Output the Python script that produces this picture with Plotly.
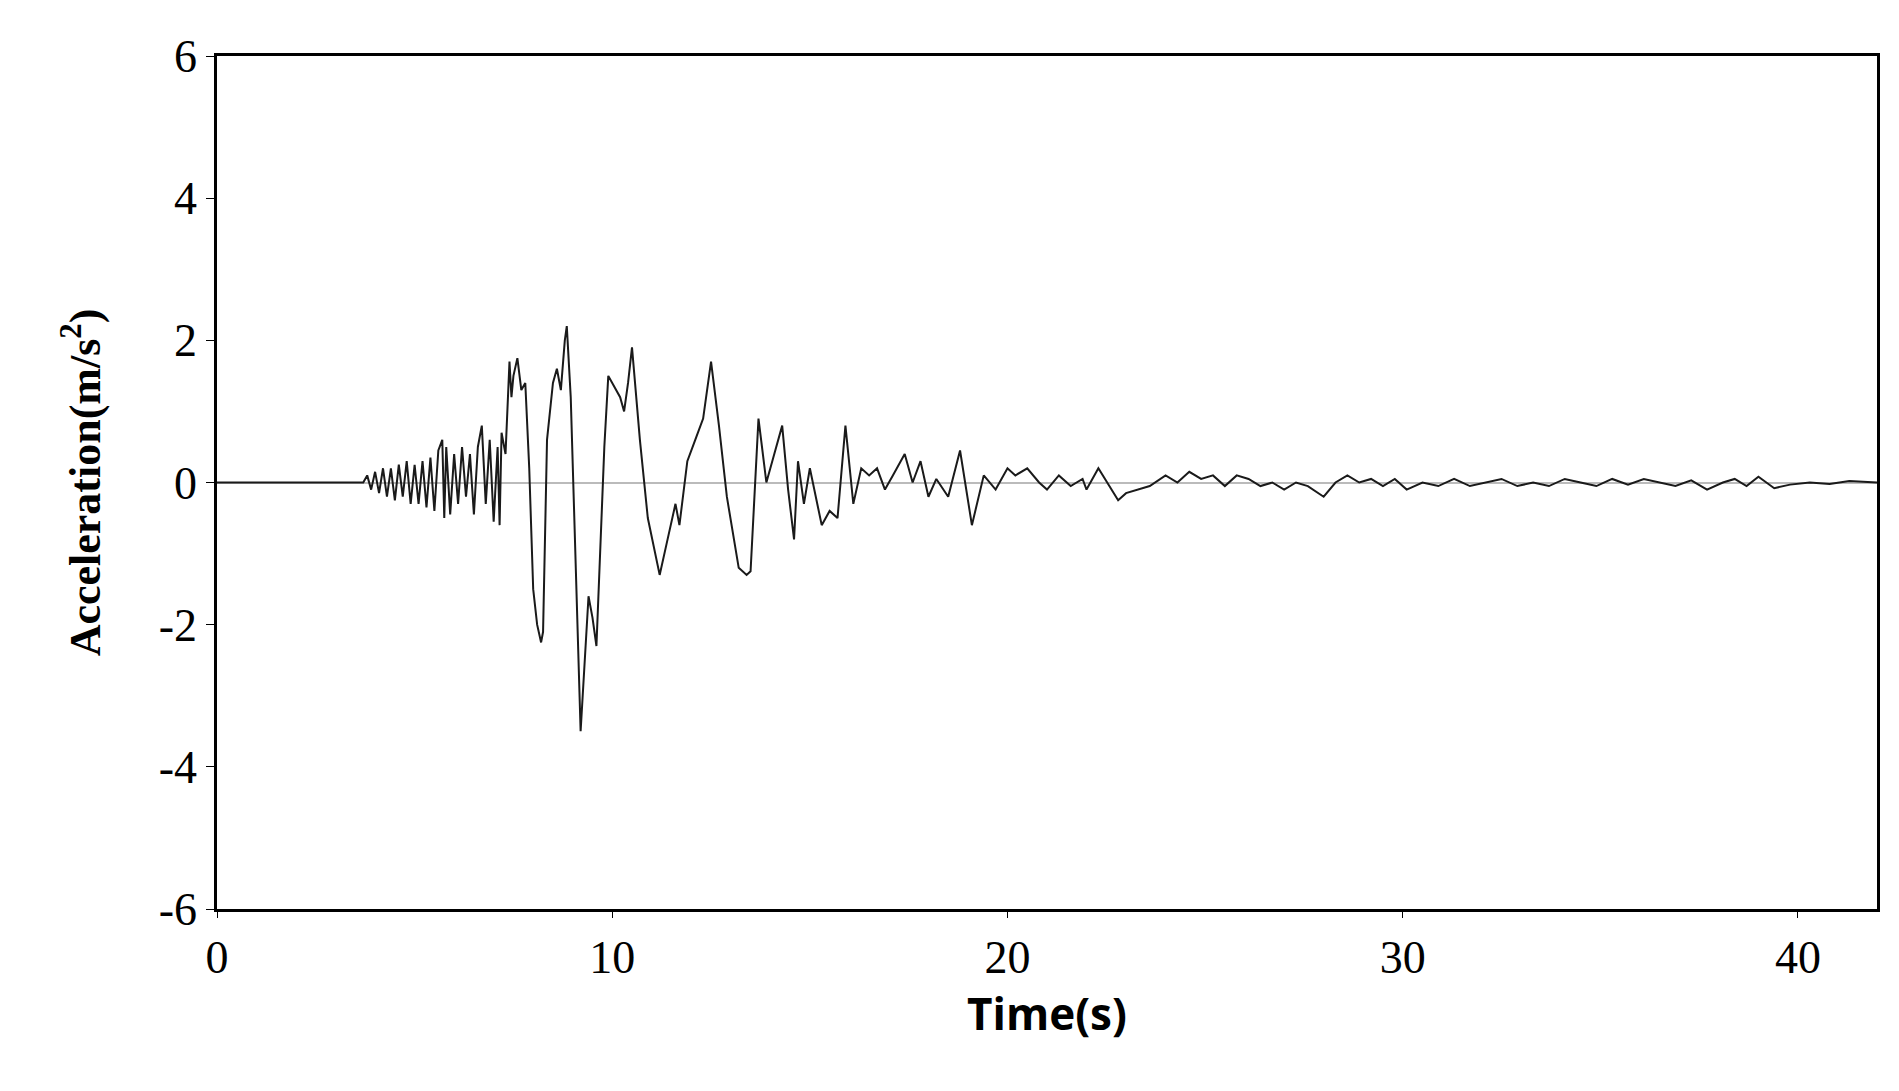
import plotly.graph_objects as go

time_s = [0, 3.7, 3.8, 3.9, 4.0, 4.1, 4.2, 4.3, 4.4, 4.5, 4.6, 4.7, 4.8, 4.9, 5.0, 5.1, 5.2, 5.3, 5.4,
          5.5, 5.6, 5.7, 5.75, 5.8, 5.9, 6.0, 6.1, 6.2, 6.3, 6.4, 6.5, 6.6, 6.7, 6.8, 6.9, 7.0, 7.1, 7.15, 7.2, 7.3,
          7.4, 7.45, 7.5, 7.6, 7.7, 7.8, 7.9, 8.0, 8.1, 8.2, 8.25, 8.35, 8.5, 8.6, 8.7, 8.8, 8.85, 8.95,
          9.2, 9.4, 9.5, 9.6, 9.8, 9.9, 10.0, 10.1, 10.2, 10.3, 10.4, 10.5, 10.7, 10.9, 11.2, 11.4, 11.6, 11.7,
          11.9, 12.1, 12.3, 12.5, 12.7, 12.9, 13.2, 13.4, 13.5, 13.7, 13.9, 14.1, 14.3, 14.45, 14.6, 14.7, 14.85,
          15.0, 15.15, 15.3, 15.5, 15.7, 15.9, 16.1, 16.3, 16.5, 16.7, 16.9, 17.1, 17.4, 17.6, 17.8, 18.0, 18.2,
          18.5, 18.8, 19.1, 19.4, 19.7, 20.0, 20.2, 20.5, 20.8, 21.0, 21.3, 21.6, 21.9, 22.0, 22.3, 22.8, 23.0,
          23.3, 23.6, 24.0, 24.3, 24.6, 24.9, 25.2, 25.5, 25.8, 26.1, 26.4, 26.7, 27.0, 27.3, 27.6, 28.0, 28.3,
          28.6, 28.9, 29.2, 29.5, 29.8, 30.1, 30.5, 30.9, 31.3, 31.7, 32.1, 32.5, 32.9, 33.3, 33.7, 34.1, 34.5,
          34.9, 35.3, 35.7, 36.1, 36.5, 36.9, 37.3, 37.7, 38.1, 38.4, 38.7, 39.0, 39.4, 39.8, 40.3, 40.8, 41.3, 42.0]
accel = [0, 0, 0.1, -0.1, 0.15, -0.15, 0.2, -0.2, 0.2, -0.25, 0.25, -0.2, 0.3, -0.3, 0.25, -0.3, 0.3, -0.35, 0.35,
         -0.4, 0.45, 0.6, -0.5, 0.5, -0.45, 0.4, -0.3, 0.5, -0.2, 0.4, -0.45, 0.5, 0.8, -0.3, 0.6, -0.55, 0.5, -0.6, 0.7, 0.4,
         1.7, 1.2, 1.5, 1.75, 1.3, 1.4, 0.2, -1.5, -2.0, -2.25, -2.1, 0.6, 1.4, 1.6, 1.3, 2.0, 2.2, 1.2,
         -3.5, -1.6, -1.9, -2.3, 0.5, 1.5, 1.4, 1.3, 1.2, 1.0, 1.4, 1.9, 0.6, -0.5, -1.3, -0.8, -0.3, -0.6,
         0.3, 0.6, 0.9, 1.7, 0.8, -0.2, -1.2, -1.3, -1.25, 0.9, 0.0, 0.4, 0.8, -0.1, -0.8, 0.3, -0.3,
         0.2, -0.2, -0.6, -0.4, -0.5, 0.8, -0.3, 0.2, 0.1, 0.2, -0.1, 0.1, 0.4, 0.0, 0.3, -0.2, 0.05,
         -0.2, 0.45, -0.6, 0.1, -0.1, 0.2, 0.1, 0.2, 0.0, -0.1, 0.1, -0.05, 0.05, -0.1, 0.2, -0.25, -0.15,
         -0.1, -0.05, 0.1, 0.0, 0.15, 0.05, 0.1, -0.05, 0.1, 0.05, -0.05, 0.0, -0.1, 0.0, -0.05, -0.2, 0.0,
         0.1, 0.0, 0.05, -0.05, 0.05, -0.1, 0.0, -0.05, 0.05, -0.05, 0.0, 0.05, -0.05, 0.0, -0.05, 0.05, 0.0,
         -0.05, 0.05, -0.03, 0.05, 0.0, -0.05, 0.03, -0.1, 0.0, 0.05, -0.05, 0.08, -0.08, -0.03, 0.0, -0.02, 0.02, 0.0]

x_ticks = [0, 10, 20, 30, 40]
y_ticks = [-6, -4, -2, 0, 2, 4, 6]
y_labels = ["-6", "-4", "-2", "0", "2", "4", "6"]

fig = go.Figure(go.Scatter(x=time_s, y=accel, mode="lines",
                           line=dict(color="#1a1a1a", width=2)))

serif = "Liberation Serif"
fig.update_layout(
    width=1899, height=1091, paper_bgcolor="white", plot_bgcolor="white",
    margin=dict(l=209, r=30, t=48, b=190), showlegend=False,
)
fig.update_xaxes(range=[0, 42], tickvals=x_ticks, showgrid=False, zeroline=False,
                 showline=True, linecolor="black", linewidth=2.5, mirror=True,
                 ticks="outside", ticklen=6, tickcolor="black",
                 tickfont=dict(family=serif, size=46, color="black"),
                 title=dict(text="<b>Time(s)</b>", font=dict(family="Open Sans", size=44, color="black"), standoff=12))
fig.update_yaxes(range=[-6, 6], tickvals=y_ticks, ticktext=y_labels, showgrid=False,
                 zeroline=True, zerolinecolor="#bbbbbb", zerolinewidth=1.5,
                 showline=True, linecolor="black", linewidth=2.5, mirror=True,
                 ticks="outside", ticklen=8, tickcolor="black",
                 tickfont=dict(family=serif, size=46, color="black"),
                 title=dict(text="<b>Acceleration(m/s<sup>2</sup>)</b>", font=dict(family=serif, size=44, color="black"), standoff=45))

fig.write_html("out.html")
